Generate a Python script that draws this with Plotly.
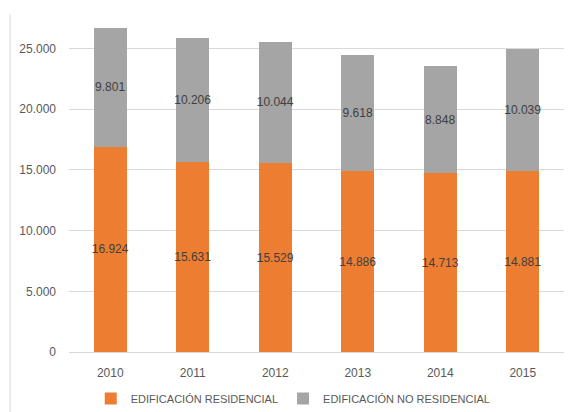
import plotly.graph_objects as go

years = ["2010", "2011", "2012", "2013", "2014", "2015"]
residencial = [16924, 15631, 15529, 14886, 14713, 14881]
no_residencial = [9801, 10206, 10044, 9618, 8848, 10039]
y_ticks = [0, 5000, 10000, 15000, 20000, 25000]

label_font = dict(color="#404040", size=12, family="Liberation Sans, Arial, sans-serif")

fig = go.Figure()
fig.add_trace(
    go.Bar(
        x=years,
        y=residencial,
        name="EDIFICACIÓN RESIDENCIAL",
        marker=dict(color="#ED7D31", line=dict(width=0)),
        texttemplate="%{y:,}",
        textposition="inside",
        insidetextanchor="middle",
        textangle=0,
        constraintext="none",
        textfont=label_font,
    )
)
fig.add_trace(
    go.Bar(
        x=years,
        y=no_residencial,
        name="EDIFICACIÓN NO RESIDENCIAL",
        marker=dict(color="#A5A5A5", line=dict(width=0)),
        texttemplate="%{y:,}",
        textposition="inside",
        insidetextanchor="middle",
        textangle=0,
        constraintext="none",
        textfont=label_font,
    )
)

# left border line of the chart area
fig.add_shape(
    type="line",
    xref="paper",
    yref="paper",
    x0=-0.119,
    x1=-0.119,
    y0=1.0,
    y1=-0.2,
    line=dict(color="#D9D9D9", width=1),
)

# page body has an 8px margin, so the figure is sized to the remaining area
fig.update_layout(
    barmode="stack",
    bargap=0.6,
    separators=",.",
    width=567,
    height=404,
    margin=dict(l=61, r=11, t=6, b=60, autoexpand=False),
    paper_bgcolor="white",
    plot_bgcolor="white",
    font=dict(family="Liberation Sans, Arial, sans-serif", size=12, color="#595959"),
    showlegend=True,
    legend=dict(
        orientation="h",
        traceorder="normal",
        x=0.453,
        xanchor="center",
        y=-0.095,
        yanchor="top",
        font=dict(size=11, color="#595959"),
        itemwidth=30,
        tracegroupgap=0,
    ),
    uniformtext=dict(mode="show", minsize=12),
)
fig.update_xaxes(
    automargin=False,
    showgrid=False,
    showline=True,
    linecolor="#D9D9D9",
    linewidth=1,
    ticks="",
    ticklabelstandoff=10,
    tickfont=dict(size=12, color="#595959"),
)
fig.update_yaxes(
    automargin=False,
    range=[0, 27840],
    tickvals=y_ticks,
    tickformat=",",
    showgrid=True,
    gridcolor="#D9D9D9",
    gridwidth=1,
    zeroline=False,
    showline=False,
    ticks="",
    ticklabelstandoff=12,
    tickfont=dict(size=12, color="#595959"),
)

fig.write_html("out.html")
